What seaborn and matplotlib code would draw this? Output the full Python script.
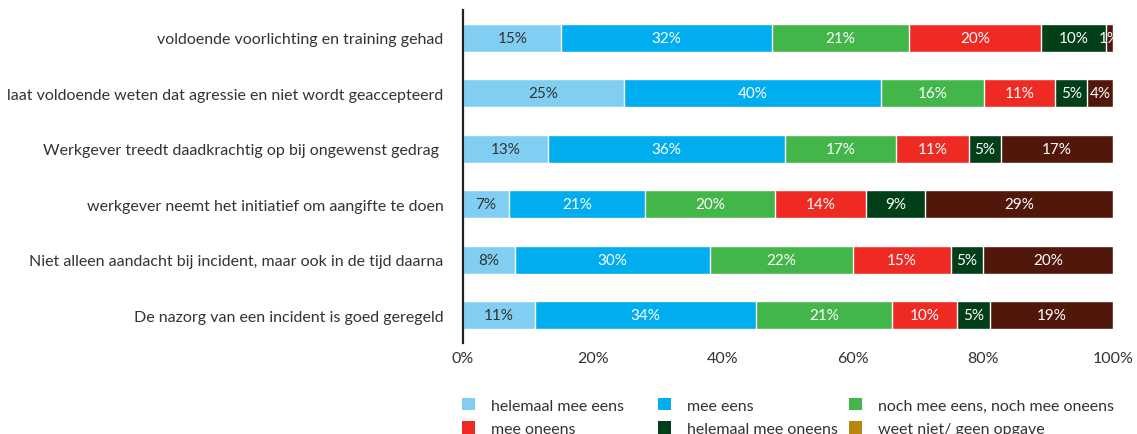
import numpy as np
import pandas as pd
import matplotlib
matplotlib.use("Agg")
import matplotlib.pyplot as plt
from matplotlib.patches import Patch
import seaborn as sns

categories = [
    "voldoende voorlichting en training gehad",
    "laat voldoende weten dat agressie en niet wordt geaccepteerd",
    "Werkgever treedt daadkrachtig op bij ongewenst gedrag ",
    "werkgever neemt het initiatief om aangifte te doen",
    "Niet alleen aandacht bij incident, maar ook in de tijd daarna",
    "De nazorg van een incident is goed geregeld",
]
series = [
    "helemaal mee eens",
    "mee eens",
    "noch mee eens, noch mee oneens",
    "mee oneens",
    "helemaal mee oneens",
    "weet niet/ geen opgave",
]
helemaal_mee_eens = [15, 25, 13, 7, 8, 11]
mee_eens = [32, 40, 36, 21, 30, 34]
noch_noch = [21, 16, 17, 20, 22, 21]
mee_oneens = [20, 11, 11, 14, 15, 10]
helemaal_mee_oneens = [10, 5, 5, 9, 5, 5]
weet_niet = [1, 4, 17, 29, 20, 19]

bar_colors = ["#80cff3", "#00aeef", "#43b649", "#ef2a23", "#003f17", "#52170b"]
legend_colors = ["#80cff3", "#00aeef", "#43b649", "#ef2a23", "#003f17", "#b8860f"]
label_colors = ["#333333", "white", "white", "white", "white", "white"]

sns.set_theme(style="white")
plt.rcParams["font.family"] = ["Lato", "DejaVu Sans"]

vals = np.array([helemaal_mee_eens, mee_eens, noch_noch, mee_oneens,
                 helemaal_mee_oneens, weet_niet], dtype=float)
share = vals / vals.sum(axis=0) * 100
cum = np.cumsum(share, axis=0)

fig = plt.figure(figsize=(11.37, 4.35), dpi=100)
ax = fig.add_axes([463 / 1137, 1 - 344 / 435, 650 / 1137, 333 / 435])

for j in range(len(series) - 1, -1, -1):
    df = pd.DataFrame({"cat": categories, "val": cum[j]})
    sns.barplot(data=df, x="val", y="cat", orient="h", color=bar_colors[j],
                saturation=1, width=0.5, ax=ax, order=categories)

for j in range(len(series)):
    for i in range(len(categories)):
        center = cum[j, i] - share[j, i] / 2
        ax.text(center, i, f"{int(vals[j, i])}%", ha="center", va="center",
                color=label_colors[j], fontsize=11)

ax.set_xlim(0, 100)
ax.set_ylim(len(categories) - 0.5, -0.5)
ax.set_xticks([0, 20, 40, 60, 80, 100])
ax.set_xticklabels(["0%", "20%", "40%", "60%", "80%", "100%"])
ax.set_xlabel("")
ax.set_ylabel("")
ax.tick_params(axis="both", length=0, labelsize=11.5, colors="#333333")
ax.tick_params(axis="y", pad=14)
ax.tick_params(axis="x", pad=6)
for s in ["top", "right", "bottom"]:
    ax.spines[s].set_visible(False)
ax.spines["left"].set_color("#222222")
ax.spines["left"].set_linewidth(1.6)

cols = [(0, 3), (1, 4), (2, 5)]
xs = [462, 658, 849]
for (a, b), x in zip(cols, xs):
    handles = [Patch(facecolor=legend_colors[k], edgecolor="none") for k in (a, b)]
    leg = fig.legend(handles, [series[a], series[b]], loc="upper left",
                     bbox_to_anchor=(x / 1137, 1 - 399 / 435), frameon=False,
                     fontsize=11.5, handlelength=0.8, handleheight=0.8,
                     handletextpad=1.0, labelspacing=0.55, borderpad=0,
                     borderaxespad=0)
    for t in leg.get_texts():
        t.set_color("#333333")

fig.savefig("out.png", dpi=100)
